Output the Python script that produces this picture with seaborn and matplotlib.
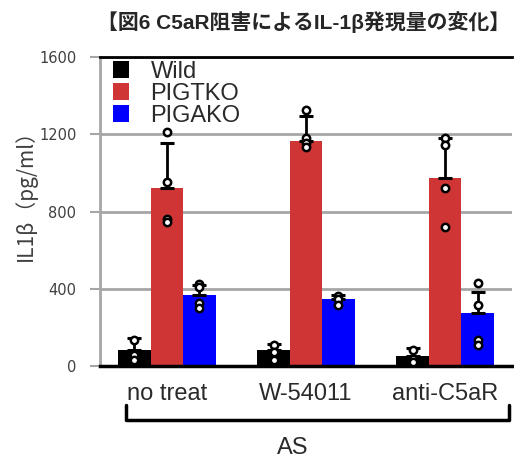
import numpy as np
import pandas as pd
import matplotlib
matplotlib.use("Agg")
import matplotlib.pyplot as plt
import seaborn as sns
from matplotlib.lines import Line2D

treatments = ["no treat", "W-54011", "anti-C5aR"]
genotypes = ["Wild", "PIGTKO", "PIGAKO"]
colors = ["#000000", "#cf3535", "#0000ff"]

# bar heights (IL1b, pg/ml), in treatment order
mean_wild = [83, 83, 52]
mean_pigtko = [921, 1166, 976]
mean_pigako = [368, 347, 275]

# upper error bars
sd_wild = [62, 31, 41]
sd_pigtko = [236, 131, 207]
sd_pigako = [52, 21, 108]

# individual replicates
pts_wild = [[135, 57, 31], [109, 73, 31], [83, 36, 21]]
pts_pigtko = [[1214, 952, 760, 748], [1326, 1181, 1155, 1135], [1183, 1145, 924, 722]]
pts_pigako = [[425, 410, 326, 300], [363, 347, 316], [430, 316, 135, 109]]

yticks = [0, 400, 800, 1200, 1600]

means = [mean_wild, mean_pigtko, mean_pigako]
sds = [sd_wild, sd_pigtko, sd_pigako]
pts = [pts_wild, pts_pigtko, pts_pigako]

df = pd.DataFrame(
    [(t, g, means[i][j]) for i, g in enumerate(genotypes) for j, t in enumerate(treatments)],
    columns=["treatment", "genotype", "il1b"],
)

sns.set_style("white")
plt.rcParams["font.family"] = ["Liberation Sans", "Noto Sans CJK JP", "DejaVu Sans"]

fig = plt.figure(figsize=(5.14, 4.59), dpi=100)
ax = fig.add_axes([100 / 514, 1 - 366 / 459, 412 / 514, 309 / 459])

sns.barplot(
    data=df, x="treatment", y="il1b", hue="genotype", order=treatments,
    hue_order=genotypes, palette=colors, width=0.70, saturation=1,
    errorbar=None, linewidth=0, ax=ax, zorder=2,
)

# error bars (upper only) and replicate points at each bar's centre
bar_groups = list(ax.containers)
for i, cont in enumerate(bar_groups):
    bars = sorted(cont.patches, key=lambda p: p.get_x())
    for j, bar in enumerate(bars):
        xc = bar.get_x() + bar.get_width() / 2
        h = bar.get_height()
        ax.errorbar([xc], [h], yerr=[[0], [sds[i][j]]], fmt="none", ecolor="black",
                    elinewidth=2, capsize=5, capthick=2.2, zorder=4)
        ax.scatter([xc] * len(pts[i][j]), pts[i][j], s=28, facecolor="white",
                   edgecolor="black", linewidth=1.8, zorder=5)

ax.set_ylim(0, 1600)
ax.set_xlim(-0.48, 2.48)
ax.set_yticks(yticks)
ax.set_yticklabels([str(v) for v in yticks], family="DejaVu Sans", fontsize=10.5,
                   color="#404040")
ax.yaxis.grid(True, color="#a6a6a6", linewidth=2)
ax.set_axisbelow(True)
ax.tick_params(axis="y", left=True, length=7, width=1.5, color="#a6a6a6", pad=10)
ax.tick_params(axis="x", bottom=False, length=0, pad=12, labelsize=17, labelcolor="#2a2a2a")
ax.set_xlabel("")
ax.set_ylabel("IL1β（pg/ml）", fontsize=15, color="#404040",
              family=["Noto Sans CJK JP", "DejaVu Sans"])
ax.yaxis.set_label_coords(-0.153, 0.57)

ax.spines["right"].set_visible(False)
ax.spines["left"].set_color("#a6a6a6")
ax.spines["left"].set_linewidth(2)
ax.spines["top"].set_color("black")
ax.spines["top"].set_linewidth(2)
ax.spines["bottom"].set_color("black")
ax.spines["bottom"].set_linewidth(2.5)

handles, labels = ax.get_legend_handles_labels()
leg = ax.legend(handles, labels, loc="upper left", bbox_to_anchor=(0.025, 0.995),
                frameon=False, fontsize=17, labelspacing=0.0, handlelength=0.7,
                handleheight=0.7, handletextpad=0.9, borderpad=0.1, borderaxespad=0)
for t in leg.get_texts():
    t.set_color("#2a2a2a")

# bracket grouping the treatments under "AS"
bx0, bx1 = 126 / 514, 509 / 514
by0, by1 = 1 - 405 / 459, 1 - 420 / 459
fig.add_artist(Line2D([bx0, bx0, bx1, bx1], [by0, by1, by1, by0], color="black",
                      linewidth=2.5, solid_joinstyle="round", solid_capstyle="round"))
fig.text(293 / 514, 1 - 448 / 459, "AS", ha="center", va="center", fontsize=17,
         color="#2a2a2a")

fig.text(304 / 514, 1 - 22 / 459, "【図6 C5aR阻害によるIL-1β発現量の変化】",
         ha="center", va="center", fontsize=15, weight="bold",
         family=["Liberation Sans", "Noto Sans CJK JP", "DejaVu Sans"])

fig.savefig("out.png", dpi=100)
